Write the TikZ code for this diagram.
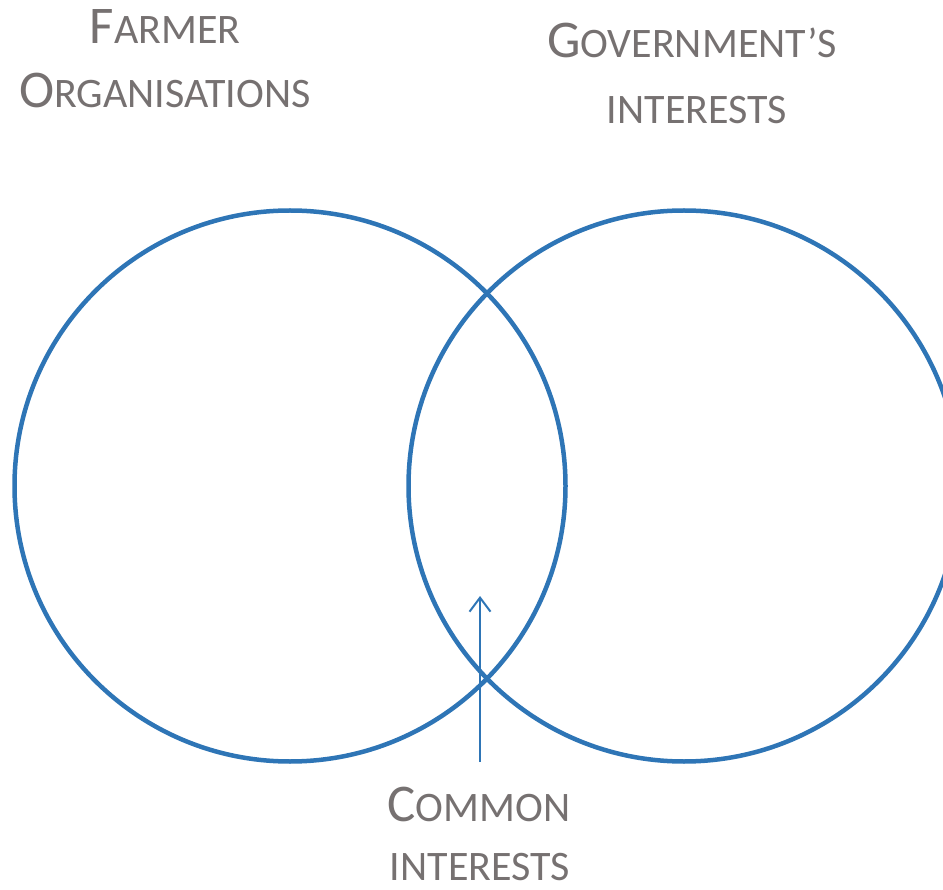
\documentclass[tikz,border=0pt]{standalone}
\usepackage{fontspec}
\setmainfont{Carlito}
\usetikzlibrary{positioning}
\usetikzlibrary{arrows.meta}
\definecolor{ringblue}{HTML}{2E75B6}
\definecolor{labelgray}{HTML}{767171}
% fake small caps: first letter big, rest smaller
\newcommand{\capletter}[1]{{\fontsize{53}{53}\selectfont #1}}
\tikzset{x=1pt, y=-1pt,
ring/.style={ % the two interest circles
draw=ringblue,
line width=4.5pt,
circle,
inner sep=0pt,
minimum size=551pt},
caption/.style={ % grey headings
text=labelgray,
anchor=base,
inner sep=0pt,
font=\fontsize{42}{42}\selectfont},
pointer/.style={ % arrow to the overlap
draw=ringblue,
line width=2pt,
-{Straight Barb[length=14pt,width=21pt,line width=2pt]}}}

\begin{document}
\begin{tikzpicture}
\useasboundingbox (0,0) rectangle (943,890);
\clip (0,0) rectangle (943,890);
\node[ring] (farmring) at (290,486) {};
\node[ring] (govring) at (684,486) {};
% labels
\node[caption] (farmer) at (165,44) {\capletter{F}ARMER};
\node[caption] (organ) at (165,108) {\capletter{O}RGANISATIONS};
\node[caption] (govt) at (692,58) {\capletter{G}OVERNMENT’S};
\node[caption] (govint) at (697,124) {INTERESTS};
\node[caption] (common) at (479,821) {\capletter{C}OMMON};
\node[caption] (comint) at (480,880) {INTERESTS};
% arrow
\coordinate (foot) at (480,762);
\coordinate (tip) at (480,596);
\draw[pointer] (foot) -- (tip);
\end{tikzpicture}
\end{document}
